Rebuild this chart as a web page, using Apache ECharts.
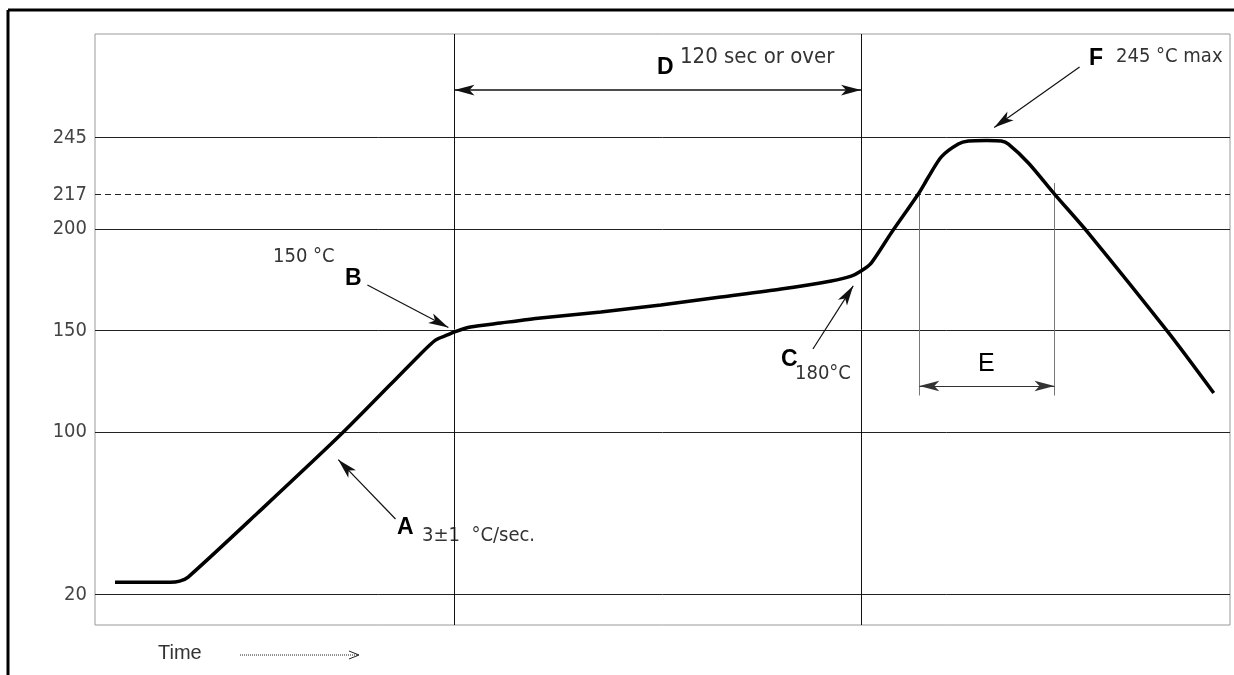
<!DOCTYPE html>
<html>
<head>
<meta charset="utf-8">
<script src="https://cdn.jsdelivr.net/npm/echarts@6/dist/echarts.min.js"></script>
<style>
  html, body { margin: 0; background: #fff; }
  #main { width: 1234px; height: 675px; }
</style>
</head>
<body>
<div id="main"></div>
<script>
// reflow profile (time in s, temperature in °C)
var profileTime = [5.9, 22.2, 25.0, 27.5, 47.9, 73.0, 95.8, 100.5, 104.0, 106.1, 110.8, 119.7, 131.5, 149.3, 167.0, 184.7, 202.5, 217.3, 223.2, 226.1, 229.1, 235.0, 243.0, 246.0, 249.8, 254.8, 257.8, 263.1, 267.5, 269.6, 275.5, 283.2, 293.2, 316.9, 330.2];
var profileTemp = [26, 26, 26.6, 28.6, 60, 99.5, 138, 145.3, 147.8, 149.3, 151.7, 153.7, 156.2, 159.1, 162.6, 166.5, 170.4, 174.4, 176.8, 179.3, 183.2, 198, 217.2, 225.6, 235.5, 241.8, 243.3, 243.6, 243.3, 241.8, 232.5, 217.2, 198, 148.8, 119.2];

var gridTemps = [20, 100, 150, 200, 245];
var liquidusTemp = 217;
var tickLabels = [20, 100, 150, 200, 217, 245];

var soakEdges = [106.1, 226.1];   // D: 120 sec or over
var liquidusWindow = [243.3, 283.2]; // E

var FONT = "'DejaVu Sans Condensed', 'DejaVu Sans', sans-serif";
var BOLD = "'Liberation Sans', Arial, sans-serif";

var chart = echarts.init(document.getElementById('main'));

var curve = profileTime.map(function (t, i) { return [t, profileTemp[i]]; });

function arrow(from, to) {
  return [{ coord: from }, { coord: to }];
}

function txt(x, y, s, size, opts) {
  opts = opts || {};
  return {
    type: 'text', x: x, y: y, silent: true,
    style: {
      text: s,
      fontSize: size,
      fontFamily: opts.family || FONT,
      fontWeight: opts.weight || 'normal',
      fill: opts.color || '#333',
      verticalAlign: 'middle',
      align: 'left'
    }
  };
}

var option = {
  animation: false,
  grid: { left: 95, right: 4, top: 34, bottom: 50, show: true, borderColor: '#999', borderWidth: 1 },
  xAxis: {
    type: 'value', min: 0, max: 335,
    axisLine: { show: false }, axisTick: { show: false },
    axisLabel: { show: false }, splitLine: { show: false }
  },
  yAxis: {
    type: 'value', min: 5, max: 296,
    axisLine: { show: false }, axisTick: { show: false },
    splitLine: { show: false },
    axisLabel: {
      customValues: tickLabels,
      margin: 8,
      fontSize: 20,
      fontFamily: FONT,
      color: '#444'
    }
  },
  series: [
    {
      // horizontal reference lines and soak zone edges
      type: 'line', data: [], silent: true,
      markLine: {
        symbol: 'none', silent: true,
        label: { show: false },
        lineStyle: { color: '#222', width: 1, type: 'solid' },
        data: gridTemps.map(function (v) { return { yAxis: v }; })
          .concat([{ yAxis: liquidusTemp, lineStyle: { type: [6, 4], color: '#222' } }])
          .concat(soakEdges.map(function (t) { return { xAxis: t, lineStyle: { color: '#111' } }; }))
      }
    },
    {
      // E window borders
      type: 'line', data: [], silent: true,
      markLine: {
        symbol: 'none', silent: true,
        label: { show: false },
        lineStyle: { color: '#777', width: 1, type: 'solid' },
        data: [
          arrow([liquidusWindow[0], 118], [liquidusWindow[0], liquidusTemp]),
          arrow([liquidusWindow[1], 118], [liquidusWindow[1], 222.6])
        ]
      }
    },
    {
      // double headed arrows D and E
      type: 'line', data: [], silent: true,
      markLine: {
        symbol: ['arrow', 'arrow'], symbolSize: [8, 20], silent: true,
        label: { show: false },
        lineStyle: { color: '#111', width: 1.5, type: 'solid' },
        data: [
          arrow([soakEdges[0], 268.4], [soakEdges[1], 268.4]),
          [{ coord: [liquidusWindow[0], 122.7], lineStyle: { color: '#333', width: 1 } },
           { coord: [liquidusWindow[1], 122.7] }]
        ]
      }
    },
    {
      // pointer arrows A, B, C, F
      type: 'line', data: [], silent: true,
      markLine: {
        symbol: ['none', 'arrow'], symbolSize: [8, 20], silent: true,
        label: { show: false },
        lineStyle: { color: '#111', width: 1.2, type: 'solid' },
        data: [
          arrow([88.7, 57.2], [71.8, 86.4]),
          arrow([80.4, 172.4], [104.3, 151.5]),
          arrow([211.9, 140.9], [223.8, 172]),
          arrow([290.6, 279.7], [265.4, 250])
        ]
      }
    },
    {
      name: 'profile',
      type: 'line',
      data: curve,
      showSymbol: false,
      smooth: 0.25,
      lineStyle: { color: '#000', width: 3.5 },
      z: 5
    }
  ],
  graphic: [
    { type: 'line', silent: true, shape: { x1: 8, y1: 10, x2: 1234, y2: 10 }, style: { stroke: '#000', lineWidth: 3 } },
    { type: 'line', silent: true, shape: { x1: 8, y1: 10, x2: 8, y2: 675 }, style: { stroke: '#000', lineWidth: 3 } },
    txt(273, 257, '150 °C', 20),
    txt(345, 279, 'B', 23, { family: BOLD, weight: 'bold', color: '#000' }),
    txt(397, 528, 'A', 23, { family: BOLD, weight: 'bold', color: '#000' }),
    txt(422, 536, '3±1  °C/sec.', 20),
    txt(781, 360, 'C', 23, { family: BOLD, weight: 'bold', color: '#000' }),
    txt(795, 374, '180°C', 20),
    txt(657, 68, 'D', 23, { family: BOLD, weight: 'bold', color: '#000' }),
    txt(680, 57, '120 sec or over', 22),
    txt(978, 364, 'E', 25, { family: BOLD, color: '#000' }),
    txt(1089, 59, 'F', 23, { family: BOLD, weight: 'bold', color: '#000' }),
    txt(1116, 57, '245 °C max', 20),
    txt(158, 653, 'Time', 20, { family: BOLD }),
    { type: 'line', silent: true, shape: { x1: 240, y1: 655, x2: 358, y2: 655 }, style: { stroke: '#222', lineWidth: 1, lineDash: [1, 1] } },
    { type: 'polyline', silent: true, shape: { points: [[349, 651], [359, 655], [349, 659]] }, style: { stroke: '#222', lineWidth: 1, fill: null } }
  ]
};

chart.setOption(option);
</script>
</body>
</html>
